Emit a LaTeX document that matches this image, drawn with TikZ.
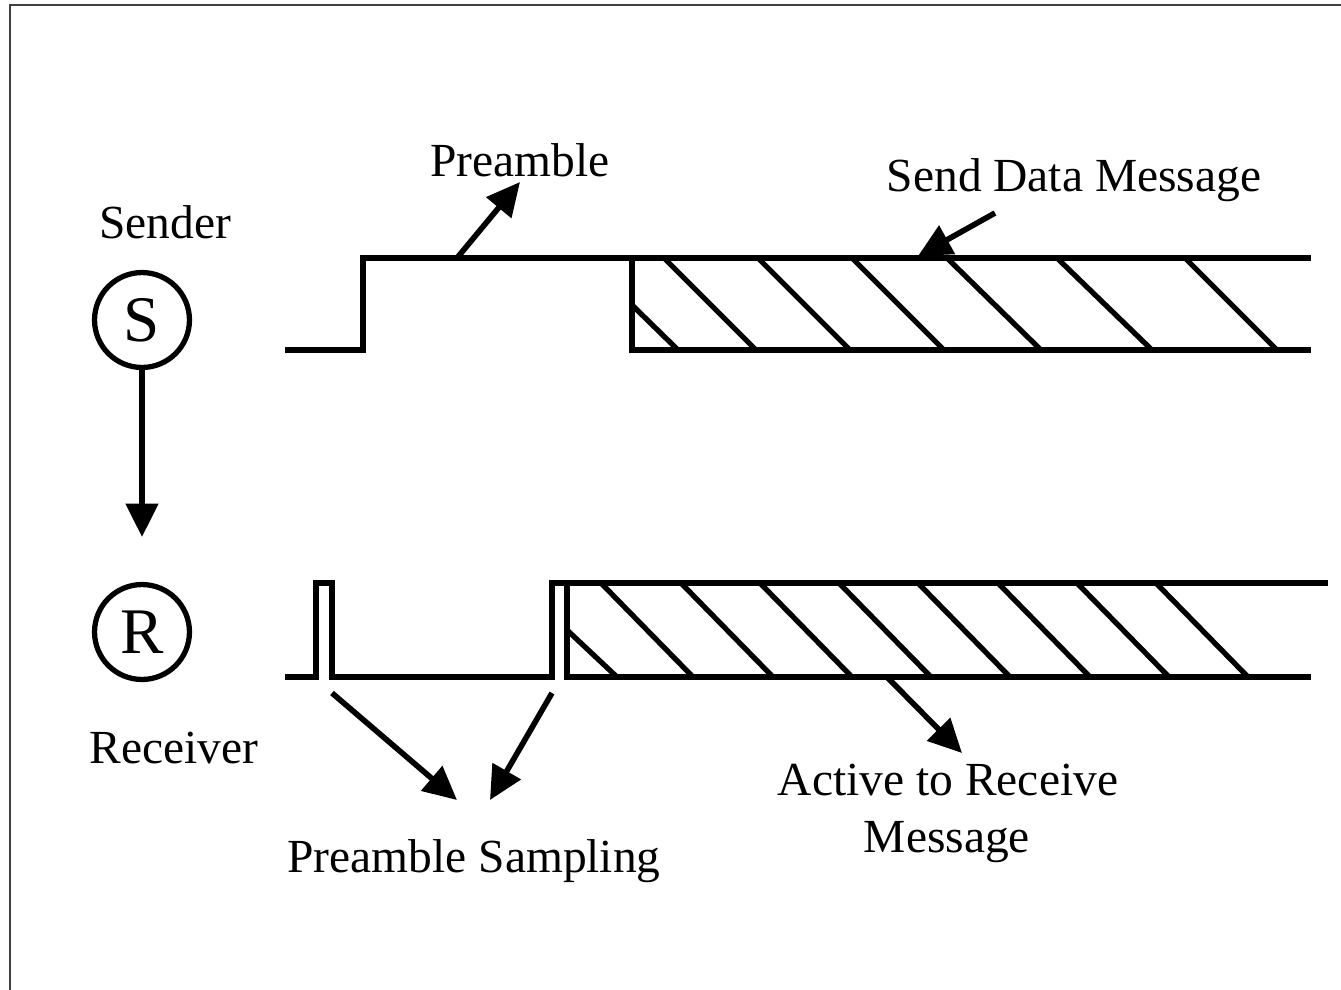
\documentclass[tikz,border=0pt]{standalone}
\usepackage{fontspec}
\setmainfont{Liberation Serif}
\usetikzlibrary{arrows.meta}
\tikzset{
  wave/.style={line width=1.6pt, line join=miter},
  hatchline/.style={line width=1.5pt},
  ptr/.style={line width=1.6pt, -{Triangle[length=9.5pt,width=9pt]}},
  lbl/.style={font=\fontsize{13.5}{16}\selectfont, inner sep=0pt, anchor=base},
  station/.style={circle, draw, line width=1.5pt, minimum size=27pt, inner sep=0pt,
                  font=\fontsize{18.5}{20}\selectfont},
  frameline/.style={line width=0.6pt, draw=black!75}
}
\begin{document}
\begin{tikzpicture}[x=0.01cm, y=-0.01cm]
\useasboundingbox (0,0) rectangle (1341,990);

% outer frame (top and left edges)
\draw[frameline] (10,990) -- (10,5) -- (1341,5);

% stations
\node[station] (S) at (142,320) {S};
\node[station] (R) at (142,632) {R};
\coordinate (Rtip) at (142,537);
\draw[ptr] (S.south) -- (Rtip);

% labels
\node[lbl] (sender)   at (165,238) {Sender};
\node[lbl] (receiver) at (174,763) {Receiver};
\node[lbl] (pre)      at (520,176) {Preamble};
\node[lbl] (sdm)      at (1074,191) {Send Data Message};
\node[lbl] (psamp)    at (474,872) {Preamble Sampling};
\node[lbl] (act1)     at (948,795) {Active to Receive};
\node[lbl] (act2)     at (947,852) {Message};

% sender waveform
\draw[wave] (285,350) -- (363,350) -- (363,258) -- (1311,258);
\draw[wave] (632,258) -- (632,350) -- (1311,350);
% sender data hatching
\foreach \a/\b in {664/756,758/850,852/944,947/1041,1057/1152,1185/1277}
  \draw[hatchline] (\a,258) -- (\b,350);
\draw[hatchline] (632,305) -- (678,350);

% receiver waveform
\draw[wave] (285,677) -- (316,677) -- (316,583) -- (332,583) -- (332,677)
            -- (552,677) -- (552,583) -- (1328,583);
\draw[wave] (567,583) -- (567,677) -- (1311,677);
% receiver active hatching
\foreach \a/\b in {601/693,681/773,760/852,839/931,918/1010,998/1090,1077/1169,1156/1248}
  \draw[hatchline] (\a,583) -- (\b,677);
\draw[hatchline] (567,630) -- (617,677);

% pointer arrows
\coordinate (preA) at (457,258);   \coordinate (preB) at (520,182);
\coordinate (sdmA) at (995,213);   \coordinate (sdmB) at (918,256);
\coordinate (ps1A) at (332,693);   \coordinate (ps1B) at (457,800);
\coordinate (ps2A) at (552,693);   \coordinate (ps2B) at (490,800);
\coordinate (actA) at (887,677);   \coordinate (actB) at (962,753);
\draw[ptr] (preA) -- (preB);
\draw[ptr] (sdmA) -- (sdmB);
\draw[ptr] (ps1A) -- (ps1B);
\draw[ptr] (ps2A) -- (ps2B);
\draw[ptr] (actA) -- (actB);
\end{tikzpicture}
\end{document}
